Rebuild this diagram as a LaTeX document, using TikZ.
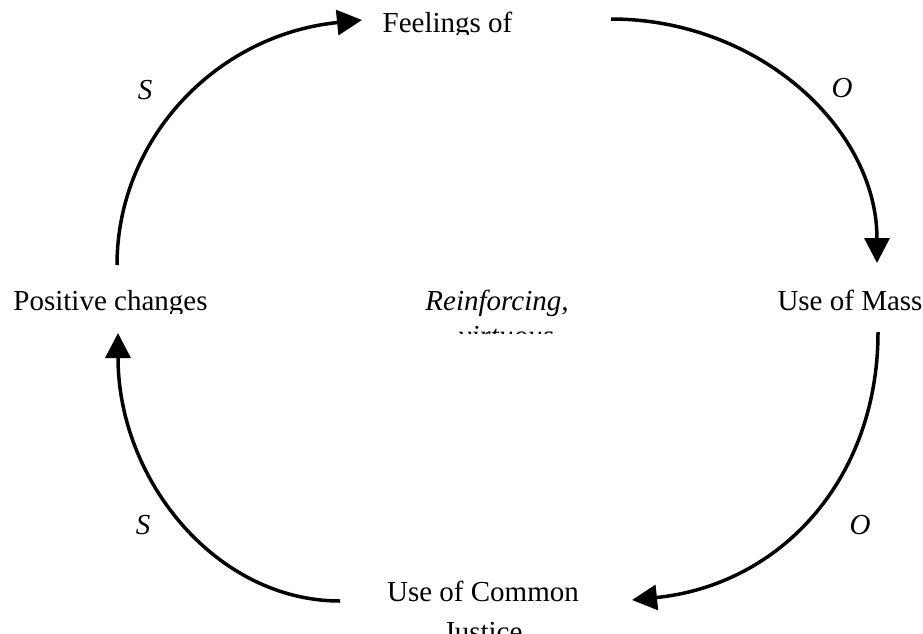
\documentclass[tikz,border=0pt]{standalone}
\usepackage{fontspec}
\setmainfont{Liberation Serif}
\usetikzlibrary{arrows.meta}
\begin{document}
\begin{tikzpicture}[x=1pt,y=-1pt,
  lbl/.style={inner sep=0pt,anchor=base,font=\fontsize{29}{33.4}\selectfont},
  ilbl/.style={lbl,font=\fontsize{29}{33.4}\selectfont\itshape},
  loop/.style={line width=3.5pt,-{Triangle[length=25pt,width=25pt]}}]
\useasboundingbox (0,0) rectangle (923,633);
% text boxes (clipped like the original)
\begin{scope}
  \clip (370,0) rectangle (530,34);
  \node[lbl] (feel) at (447.5,32) {Feelings of};
\end{scope}
\begin{scope}
  \clip (0,270) rectangle (260,313);
  \node[lbl] (pos) at (110.5,310) {Positive changes};
\end{scope}
\begin{scope}
  \clip (760,270) rectangle (923,313);
  \node[lbl] (mass) at (850,310) {Use of Mass};
\end{scope}
\begin{scope}
  \clip (400,270) rectangle (600,333);
  \node[ilbl] (reinf) at (497,310) {Reinforcing,};
  \node[ilbl] (virt) at (506,345.5) {virtuous};
\end{scope}
\begin{scope}
  \clip (370,560) rectangle (600,633);
  \node[lbl] (common) at (483,601) {Use of Common};
  \node[lbl] (justice) at (483,641) {Justice};
\end{scope}
% polarity labels
\node[ilbl,anchor=center] (s1) at (145,90) {S};
\node[ilbl,anchor=center] (o1) at (842,88) {O};
\node[ilbl,anchor=center] (o2) at (860,525) {O};
\node[ilbl,anchor=center] (s2) at (143,525) {S};
% arc end points
\coordinate (a1s) at (117,265);
\coordinate (a1e) at (362,20);
\coordinate (a2s) at (611,19);
\coordinate (a2e) at (877,263);
\coordinate (a3s) at (878,332);
\coordinate (a3e) at (632,600);
\coordinate (a4s) at (340,601);
\coordinate (a4e) at (118,333);
% loops
\draw[loop] (a1s) .. controls (117,140) and (215,35) .. (a1e);
\draw[loop] (a2s) .. controls (758,19) and (877,128) .. (a2e);
\draw[loop] (a3s) .. controls (878,480) and (780,585) .. (a3e);
\draw[loop] (a4s) .. controls (217,601) and (118,481) .. (a4e);
\end{tikzpicture}
\end{document}
